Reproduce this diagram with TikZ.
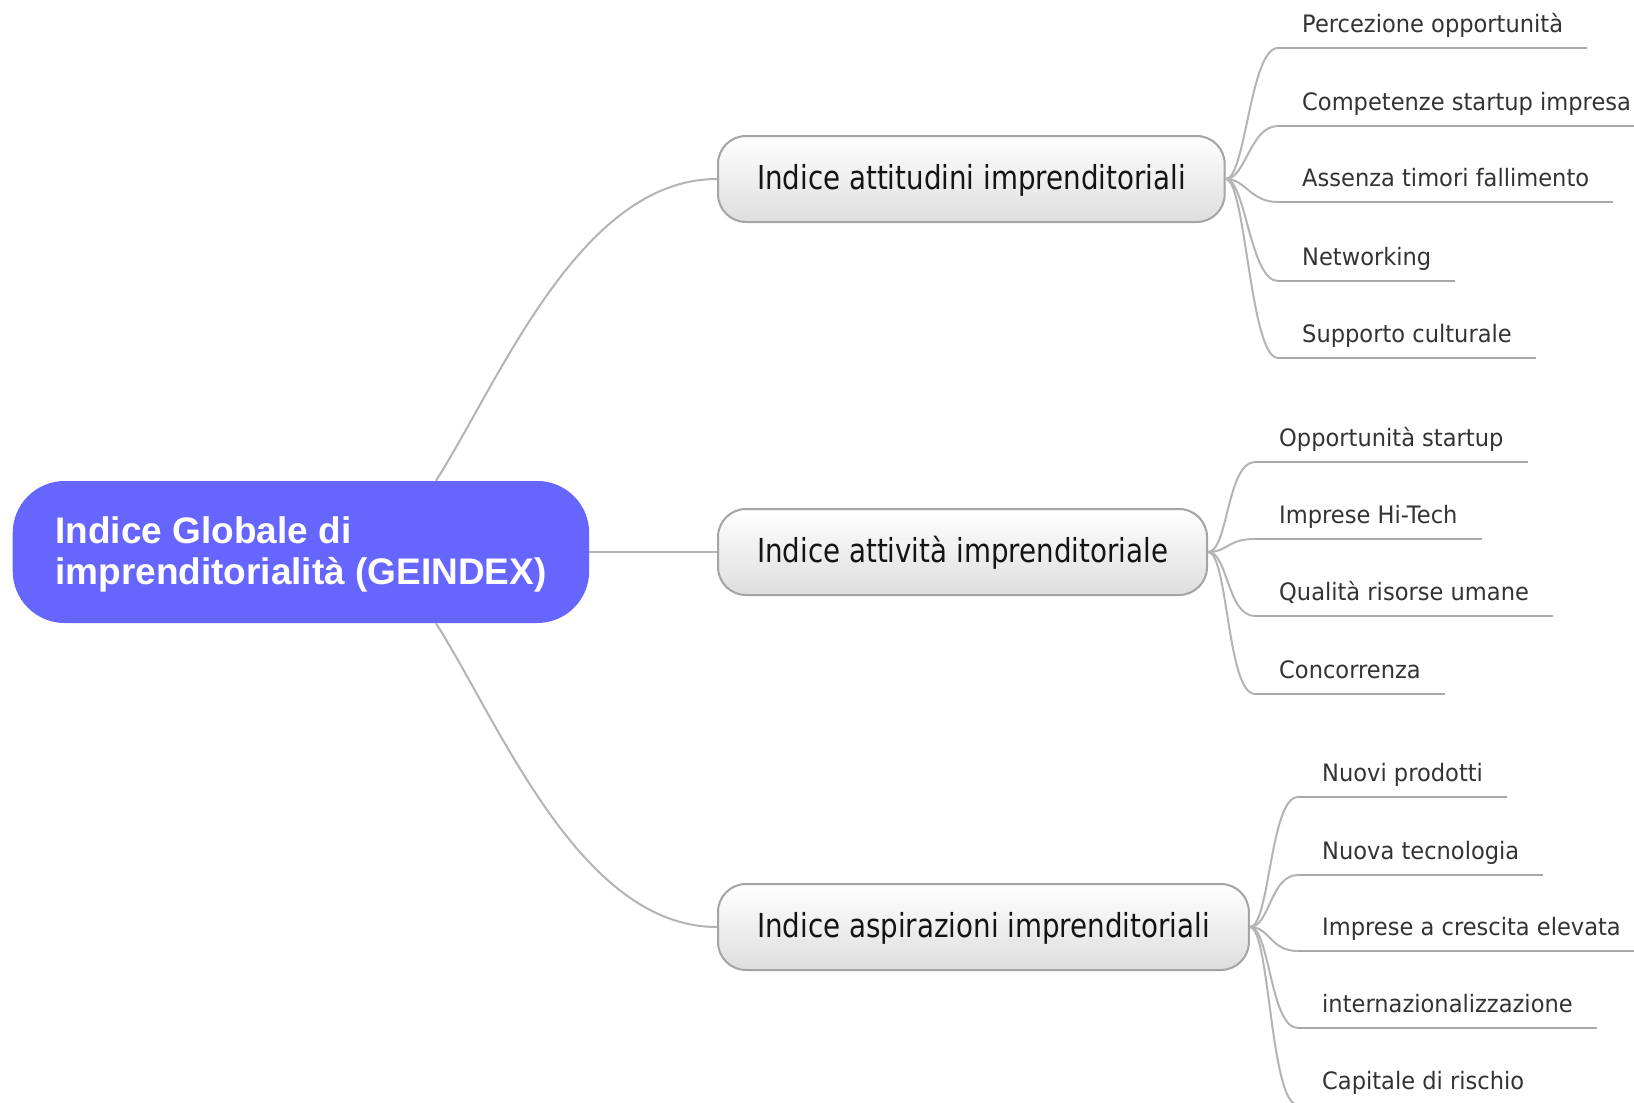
\documentclass[tikz,border=0pt]{standalone}
\usepackage{fontspec}
\setmainfont{DejaVu Sans}
\newfontfamily\rootfont{Liberation Sans}
\newfontfamily\midfont[FakeStretch=0.84]{DejaVu Sans}
\newfontfamily\leaffont[FakeStretch=0.94]{DejaVu Sans}
\definecolor{rootblue}{HTML}{6666FF}
\definecolor{conngray}{HTML}{B4B4B4}
\definecolor{linegray}{HTML}{A8A8A8}
\definecolor{boxborder}{HTML}{A4A4A4}
\definecolor{leaftext}{HTML}{333333}
\tikzset{
  rootbox/.style={fill=rootblue, rounded corners=52pt, text=white, align=left,
    font=\rootfont\bfseries\fontsize{37}{41}\selectfont,
    minimum width=576.5pt, minimum height=142pt, inner xsep=42pt, anchor=west},
  midbox/.style={draw=boxborder, line width=2pt, rounded corners=28pt,
    top color=white, bottom color=black!13, text=black!92,
    font=\midfont\fontsize{33}{40}\selectfont,
    text height=24pt, text depth=4pt,
    minimum height=86pt, inner xsep=39pt, anchor=west},
  leaf/.style={anchor=south west, inner xsep=24pt, inner ysep=9pt,
    text height=18pt, text depth=6pt, text=leaftext,
    font=\leaffont\fontsize{24}{28}\selectfont},
  conn/.style={draw=conngray, line width=2pt},
  uline/.style={draw=linegray, line width=2pt},
}
\begin{document}
\begin{tikzpicture}[x=1pt,y=-1pt]
\useasboundingbox[fill=white] (0,0) rectangle (1634,1103);
\clip (0,0) rectangle (1634,1103);

% root and main branches
\node[rootbox] (root) at (12.5,552) {\rule{0pt}{32pt}Indice Globale di\\imprenditorialità (GEINDEX)};
\node[midbox] (n1) at (717,179) {Indice attitudini imprenditoriali};
\node[midbox] (n2) at (717,552) {Indice attività imprenditoriale};
\node[midbox] (n3) at (717,927) {Indice aspirazioni imprenditoriali};

\coordinate (rtop) at ([xshift=135pt]root.north);
\coordinate (rbot) at ([xshift=135pt]root.south);
\draw[conn] (rtop) .. controls (500,380) and (580,179) .. (n1.west);
\draw[conn] (root.east) -- (n2.west);
\draw[conn] (rbot) .. controls (500,724) and (580,927) .. (n3.west);

% group 1
\node[leaf] (a1) at (1278,48)  {Percezione opportunità};
\node[leaf] (a2) at (1278,126) {Competenze startup impresa};
\node[leaf] (a3) at (1278,202) {Assenza timori fallimento};
\node[leaf] (a4) at (1278,281) {Networking};
\node[leaf] (a5) at (1278,358) {Supporto culturale};
\foreach \l in {a1,a2,a3,a4,a5}{
  \draw[uline] (\l.south west) -- (\l.south east);
  \draw[conn] (n1.east) .. controls +(20,0) and +(-28,0) .. (\l.south west);
}

% group 2
\node[leaf] (b1) at (1255,462) {Opportunità startup};
\node[leaf] (b2) at (1255,539) {Imprese Hi-Tech};
\node[leaf] (b3) at (1255,616) {Qualità risorse umane};
\node[leaf] (b4) at (1255,694) {Concorrenza};
\foreach \l in {b1,b2,b3,b4}{
  \draw[uline] (\l.south west) -- (\l.south east);
  \draw[conn] (n2.east) .. controls +(20,0) and +(-28,0) .. (\l.south west);
}

% group 3
\node[leaf] (c1) at (1298,797)  {Nuovi prodotti};
\node[leaf] (c2) at (1298,875)  {Nuova tecnologia};
\node[leaf] (c3) at (1298,951)  {Imprese a crescita elevata};
\node[leaf] (c4) at (1298,1028) {internazionalizzazione};
\node[leaf] (c5) at (1298,1105) {Capitale di rischio};
\foreach \l in {c1,c2,c3,c4,c5}{
  \draw[uline] (\l.south west) -- (\l.south east);
  \draw[conn] (n3.east) .. controls +(20,0) and +(-28,0) .. (\l.south west);
}
\end{tikzpicture}
\end{document}
